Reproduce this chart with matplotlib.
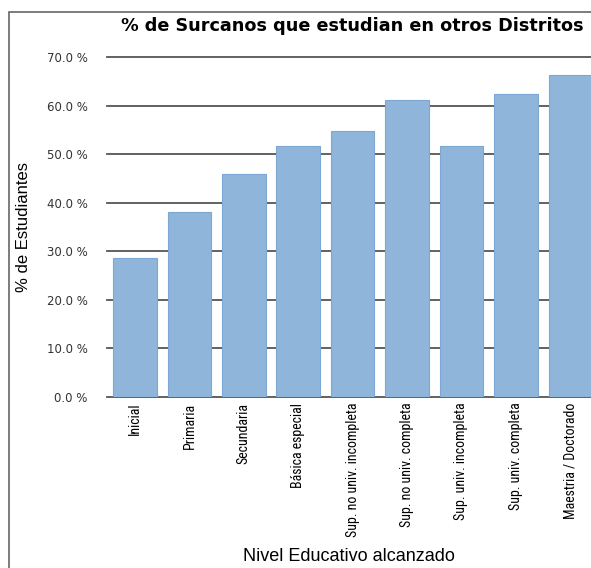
import matplotlib.pyplot as plt
from matplotlib.patches import Rectangle
from matplotlib.ticker import FuncFormatter
from matplotlib import font_manager

# --- datos ---
niveles = [
    "Inicial",
    "Primaria",
    "Secundaria",
    "Básica especial",
    "Sup. no univ. incompleta",
    "Sup. no univ. completa",
    "Sup. univ. incompleta",
    "Sup. univ. completa",
    "Maestria / Doctorado",
]
porcentajes = [28.6, 38.0, 45.9, 51.7, 54.8, 61.2, 51.7, 62.4, 66.3]
ticks_y = [0, 10, 20, 30, 40, 50, 60, 70]

# fuente estrecha para las etiquetas del eje x (si existe)
nombres = {f.name for f in font_manager.fontManager.ttflist}
estrecha = [n for n in ["Liberation Sans Narrow", "Roboto Condensed", "Open Sans Condensed"]
            if n in nombres]
fam_x = estrecha + ["DejaVu Sans"]

# --- figura ---
fig = plt.figure(figsize=(5.91, 5.68), dpi=100)
ax = fig.add_axes([107 / 591, 1 - 397 / 568, 1 - 107 / 591, (397 - 57) / 568])

x = range(len(niveles))
ax.bar(x, porcentajes, width=0.8, color="#8fb5da", edgecolor="#7aa7d3",
       linewidth=0.8, zorder=3)

ax.set_ylim(0, 70)
ax.set_xlim(-0.515, 8.38)
ax.set_yticks(ticks_y)
ax.yaxis.set_major_formatter(FuncFormatter(lambda v, p: f"{v:.1f} %"))
ax.grid(axis="y", color="#555555", linewidth=1.3, zorder=0)
ax.set_axisbelow(True)
for g in ax.yaxis.get_gridlines():
    g.set_clip_on(False)
for s in ax.spines.values():
    s.set_visible(False)

ax.tick_params(axis="y", length=0, pad=14, labelsize=8.5, labelcolor="#333333")
ax.tick_params(axis="x", length=0, pad=4)
ax.set_xticks(list(x))
ax.set_xticklabels(niveles, rotation=90, fontsize=10,
                   family=fam_x, fontstretch="condensed", va="top")

ax.set_ylabel("% de Estudiantes", fontsize=12, family="Liberation Sans", labelpad=11)
ax.set_xlabel("Nivel Educativo alcanzado", fontsize=13, family="Liberation Sans",
              labelpad=8)

fig.text(352 / 591, 1 - 26 / 568, "% de Surcanos que estudian en otros Distritos",
         ha="center", va="center", fontsize=12.7, fontweight="bold")

# --- marco ---
fig.patches.append(Rectangle((9 / 591, -0.1), 1.2, 1 - 12 / 568 + 0.1,
                             transform=fig.transFigure, fill=False,
                             edgecolor="#666666", linewidth=1.2))

fig.savefig("out.png", dpi=100)
